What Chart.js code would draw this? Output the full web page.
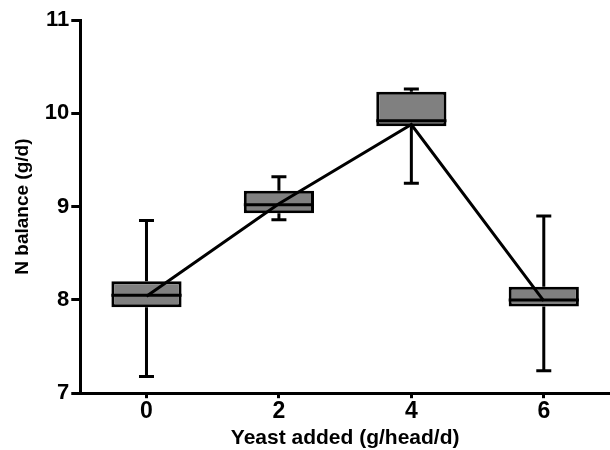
<!DOCTYPE html>
<html>
<head>
<meta charset="utf-8">
<script src="https://cdn.jsdelivr.net/npm/chart.js@4.4.0/dist/chart.umd.min.js"></script>
<style>
  html, body { margin: 0; padding: 0; background: #fff; overflow: hidden; }
  #wrap { width: 610px; height: 451px; }
</style>
</head>
<body>
<div id="wrap"><canvas id="myChart"></canvas></div>
<script>
// yeast dose (g/head/d)
var doses = ["0", "2", "4", "6"];
// box plot values for N balance (g/d)
var whiskerLow = [7.18, 8.86, 9.25, 7.24];
var q1 = [7.92, 8.93, 9.86, 7.93];
var medians = [8.05, 9.02, 9.92, 8.00];
var q3 = [8.20, 9.17, 10.23, 8.14];
var whiskerHigh = [8.85, 9.32, 10.26, 8.90];
// line through group means
var means = [8.04, 9.03, 9.88, 7.99];
var yTicks = [7, 8, 9, 10, 11];

var boxes = doses.map(function (d, i) { return [q1[i], q3[i]]; });

var boxPlugin = {
    id: 'boxParts',
    beforeDatasetsDraw: function (chart) {
        var ctx = chart.ctx;
        var y = chart.scales.y;
        var meta = chart.getDatasetMeta(0);
        ctx.save();
        ctx.strokeStyle = '#000';
        ctx.lineWidth = 3;
        meta.data.forEach(function (bar, i) {
            var x = bar.x;
            var capHalf = 7.5;
            ctx.beginPath();
            ctx.moveTo(x, y.getPixelForValue(whiskerLow[i]));
            ctx.lineTo(x, y.getPixelForValue(q1[i]));
            ctx.moveTo(x, y.getPixelForValue(whiskerHigh[i]));
            ctx.lineTo(x, y.getPixelForValue(q3[i]));
            ctx.moveTo(x - capHalf, y.getPixelForValue(whiskerLow[i]));
            ctx.lineTo(x + capHalf, y.getPixelForValue(whiskerLow[i]));
            ctx.moveTo(x - capHalf, y.getPixelForValue(whiskerHigh[i]));
            ctx.lineTo(x + capHalf, y.getPixelForValue(whiskerHigh[i]));
            ctx.stroke();
        });
        ctx.restore();
    },
    afterDatasetDraw: function (chart, args) {
        if (args.index !== 0) return;
        var ctx = chart.ctx;
        var y = chart.scales.y;
        ctx.save();
        ctx.strokeStyle = '#000';
        ctx.lineWidth = 3;
        args.meta.data.forEach(function (bar, i) {
            var half = bar.width / 2;
            var py = y.getPixelForValue(medians[i]);
            ctx.beginPath();
            ctx.moveTo(bar.x - half, py);
            ctx.lineTo(bar.x + half, py);
            ctx.stroke();
        });
        ctx.restore();
    }
};

var ctx = document.getElementById('myChart');
var myChart = new Chart(ctx, {
    type: 'bar',
    data: {
        labels: doses,
        datasets: [{
            label: 'N balance',
            data: boxes,
            backgroundColor: '#808080',
            borderColor: '#000',
            borderWidth: 3,
            borderSkipped: false,
            categoryPercentage: 1,
            barPercentage: 0.53,
            order: 1
        },
        {
            type: 'line',
            label: 'Mean',
            data: means,
            borderColor: '#000',
            borderWidth: 3,
            pointRadius: 0,
            tension: 0,
            order: 0
        }]
    },
    options: {
        responsive: true,
        maintainAspectRatio: false,
        animation: false,
        layout: { padding: { top: 20, left: 11, right: 0, bottom: 0 } },
        plugins: {
            legend: { display: false },
            tooltip: { enabled: false }
        },
        scales: {
            x: {
                offset: true,
                grid: { display: true, drawOnChartArea: false, offset: false, tickLength: 5, tickWidth: 3, tickColor: '#000' },
                border: { display: true, color: '#000', width: 3 },
                ticks: { color: '#000', padding: 0, font: { family: 'Liberation Sans', size: 23, weight: 'bold' } },
                title: { display: true, text: 'Yeast added (g/head/d)', color: '#000', padding: { top: 0, bottom: 0 }, font: { family: 'Liberation Sans', size: 21, weight: 'bold' } }
            },
            y: {
                min: 7,
                max: 11,
                afterBuildTicks: function (axis) {
                    axis.ticks = yTicks.map(function (v) { return { value: v }; });
                },
                grid: { display: true, drawOnChartArea: false, tickLength: 9, tickWidth: 3, tickColor: '#000' },
                border: { display: true, color: '#000', width: 3 },
                ticks: { color: '#000', padding: 2, font: { family: 'Liberation Sans', size: 22, weight: 'bold' } },
                title: { display: true, text: 'N balance (g/d)', color: '#000', padding: { top: 0, bottom: 9 }, font: { family: 'Liberation Sans', size: 19, weight: 'bold' } }
            }
        }
    },
    plugins: [boxPlugin]
});
</script>
</body>
</html>
